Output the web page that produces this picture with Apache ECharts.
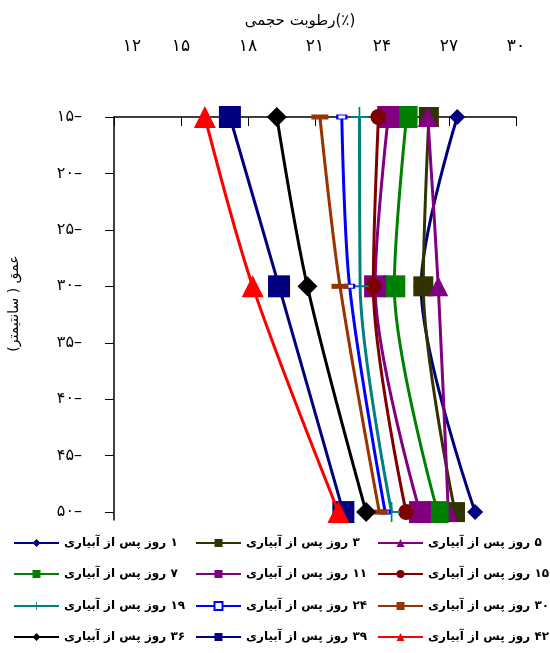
<!DOCTYPE html>
<html><head><meta charset="utf-8">
<script src="https://cdn.jsdelivr.net/npm/echarts@6/dist/echarts.min.js"></script>
<style>html,body{margin:0;padding:0;background:#fff}#c{width:550px;height:653px}</style>
</head><body><div id="c"></div>
<script>
const depths = [15, 30, 50];
const xTicks = [12, 15, 18, 21, 24, 27, 30];
const yTicks = [15, 20, 25, 30, 35, 40, 45, 50];
const names = ['۱ روز پس از آبیاری','۳ روز پس از آبیاری','۵ روز پس از آبیاری','۷ روز پس از آبیاری','۱۱ روز پس از آبیاری','۱۵ روز پس از آبیاری','۱۹ روز پس از آبیاری','۲۴ روز پس از آبیاری','۳۰ روز پس از آبیاری','۳۶ روز پس از آبیاری','۳۹ روز پس از آبیاری','۴۲ روز پس از آبیاری'];
const d1  = [27.37, 25.75, 28.17];
const d3  = [26.1, 25.85, 27.27];
const d5  = [26.05, 26.52, 26.97];
const d7  = [25.1, 24.55, 26.49];
const d11 = [24.28, 23.69, 25.7];
const d15 = [23.84, 23.61, 25.08];
const d19 = [22.99, 23.02, 24.43];
const d24 = [22.2, 22.55, 24.14];
const d30 = [21.22, 22.12, 23.88];
const d36 = [19.29, 20.66, 23.29];
const d39 = [17.19, 19.39, 22.27];
const d42 = [16.07, 18.21, 22.05];

const values = [d1,d3,d5,d7,d11,d15,d19,d24,d30,d36,d39,d42];
const colors = ['#000080','#333300','#800080','#008000','#800080','#800000','#008080','#0000FF','#993300','#000000','#000080','#FF0000'];
const plusPath = 'path://M9,0H11V20H9Z M0,9H20V11H0Z';
const symbols = ['diamond','rect','triangle','rect','rect','circle',plusPath,'rect','rect','diamond','rect','triangle'];
const sizes = [16,20,20,22,22,16,[17,20],[9,4],[17,5],20,22,22];

const fa = s => String(s).replace(/\d/g, d => '۰۱۲۳۴۵۶۷۸۹'[d]);
const FONT = 'DejaVu Sans';

const series = values.map((v, i) => ({
  name: names[i],
  type: 'line',
  smooth: 0.3,
  data: v.map((x, k) => [x, depths[k]]),
  symbol: symbols[i],
  symbolSize: sizes[i],
  lineStyle: { color: colors[i], width: 3 },
  itemStyle: i === 7 ? { color: '#fff', borderColor: colors[i], borderWidth: 1.5 } : { color: colors[i] },
  emphasis: { disabled: true },
  z: 2 + i
}));

const legendColLeft = [13, 195, 377];
const legendRowMid = [542, 573, 605, 636];
const legend = names.map((n, i) => ({
  data: [n],
  orient: 'horizontal',
  left: legendColLeft[i % 3],
  top: legendRowMid[Math.floor(i / 3)] - 5,
  padding: 0,
  itemWidth: 45,
  itemHeight: 10,
  selectedMode: false,
  formatter: t => '\u200F' + t,
  textStyle: { fontFamily: FONT, fontSize: 12, color: '#000', fontWeight: 'bold' }
}));

const chart = echarts.init(document.getElementById('c'), null, { renderer: 'canvas' });
chart.setOption({
  animation: false,
  backgroundColor: '#fff',
  grid: { left: 114, right: 34, top: 117, bottom: 133, outerBoundsMode: 'none', containLabel: false },
  legend: legend,
  xAxis: {
    type: 'value', position: 'top', min: 12, max: 30, interval: 3,
    axisLine: { show: true, lineStyle: { color: '#000', width: 1.5 } },
    axisTick: { show: true, inside: true, length: 9, lineStyle: { color: '#000' } },
    splitLine: { show: false },
    axisLabel: {
      margin: 62, color: '#000', fontFamily: FONT, fontSize: 17,
      formatter: v => v === 12 ? '{a|' + fa(v) + '}' : fa(v),
      rich: { a: { fontFamily: FONT, fontSize: 17, color: '#000', padding: [0,0,0,36] } }
    },
    name: 'رطوبت حجمی(٪)', nameLocation: 'middle', nameGap: 88,
    nameTextStyle: { fontFamily: FONT, fontSize: 15, color: '#000', padding: [0, 30, 0, 0] }
  },
  yAxis: {
    type: 'value', inverse: true, min: 15, max: 50.7, interval: 5,
    axisLine: { show: true, lineStyle: { color: '#000', width: 1.5 } },
    axisTick: { show: true, inside: false, length: 9, lineStyle: { color: '#000' }, customValues: yTicks },
    splitLine: { show: false },
    axisLabel: {
      margin: 32, color: '#000', fontFamily: FONT, fontSize: 16, customValues: yTicks,
      formatter: v => fa(v) + '–'
    },
    name: 'عمق ( سانتیمتر)', nameLocation: 'middle', nameRotate: 90, nameGap: 93,
    nameTextStyle: { fontFamily: FONT, fontSize: 14, color: '#000', padding: [0, 0, 0, 30] }
  },
  series: series
});
</script></body></html>
